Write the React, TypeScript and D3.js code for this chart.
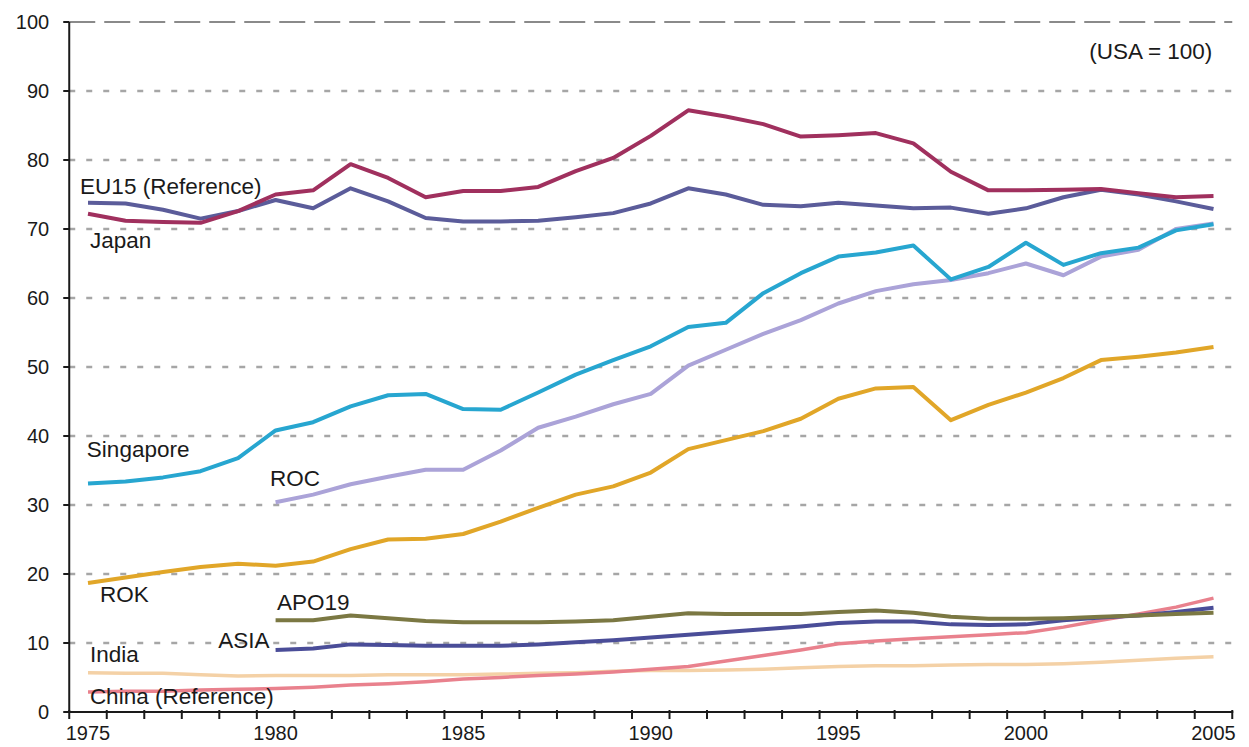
import React from "react";
import * as d3 from "d3";

const years: number[] = d3.range(1975, 2006);
const years80: number[] = d3.range(1980, 2006);

const japan = [72.2, 71.2, 71.0, 70.9, 72.6, 75.0, 75.6, 79.4, 77.4, 74.6, 75.5, 75.5, 76.1, 78.4, 80.3, 83.5, 87.2, 86.3, 85.2, 83.4, 83.6, 83.9, 82.4, 78.3, 75.6, 75.6, 75.7, 75.8, 75.2, 74.6, 74.8];
const eu15 = [73.8, 73.7, 72.8, 71.5, 72.6, 74.2, 73.0, 75.9, 74.0, 71.6, 71.1, 71.1, 71.2, 71.7, 72.3, 73.7, 75.9, 75.0, 73.5, 73.3, 73.8, 73.4, 73.0, 73.1, 72.2, 73.0, 74.6, 75.7, 75.0, 74.0, 72.9];
const singapore = [33.1, 33.4, 34.0, 34.9, 36.8, 40.8, 42.0, 44.3, 45.9, 46.1, 43.9, 43.8, 46.3, 48.9, 51.0, 53.0, 55.8, 56.4, 60.7, 63.6, 66.0, 66.6, 67.6, 62.7, 64.5, 68.0, 64.8, 66.5, 67.3, 69.8, 70.7];
const roc = [30.4, 31.5, 33.0, 34.1, 35.1, 35.1, 37.9, 41.2, 42.8, 44.6, 46.1, 50.2, 52.5, 54.8, 56.8, 59.2, 61.0, 62.0, 62.6, 63.6, 65.0, 63.3, 66.0, 67.0, 70.0, 70.8];
const rok = [18.7, 19.5, 20.3, 21.0, 21.5, 21.2, 21.8, 23.6, 25.0, 25.1, 25.8, 27.6, 29.6, 31.5, 32.7, 34.7, 38.1, 39.4, 40.7, 42.5, 45.4, 46.9, 47.1, 42.3, 44.5, 46.3, 48.4, 51.0, 51.5, 52.1, 52.9];
const apo19 = [13.3, 13.3, 14.0, 13.6, 13.2, 13.0, 13.0, 13.0, 13.1, 13.3, 13.8, 14.3, 14.2, 14.2, 14.2, 14.5, 14.7, 14.4, 13.8, 13.5, 13.5, 13.6, 13.8, 14.0, 14.2, 14.4];
const asia = [9.0, 9.2, 9.8, 9.7, 9.6, 9.6, 9.6, 9.8, 10.1, 10.4, 10.8, 11.2, 11.6, 12.0, 12.4, 12.9, 13.1, 13.1, 12.7, 12.6, 12.7, 13.3, 13.7, 14.0, 14.5, 15.1];
const india = [5.7, 5.6, 5.6, 5.4, 5.2, 5.3, 5.3, 5.3, 5.4, 5.4, 5.4, 5.5, 5.6, 5.7, 5.9, 6.0, 6.0, 6.1, 6.2, 6.4, 6.6, 6.7, 6.7, 6.8, 6.9, 6.9, 7.0, 7.2, 7.5, 7.8, 8.0];
const china = [2.9, 3.0, 3.0, 3.2, 3.3, 3.4, 3.6, 3.9, 4.1, 4.4, 4.8, 5.0, 5.3, 5.5, 5.8, 6.2, 6.6, 7.4, 8.2, 9.0, 9.9, 10.3, 10.6, 10.9, 11.2, 11.5, 12.3, 13.3, 14.2, 15.2, 16.5];

const yTicks = [0, 10, 20, 30, 40, 50, 60, 70, 80, 90, 100];
const xTickLabels = [1975, 1980, 1985, 1990, 1995, 2000, 2005];

const seriesList = [
  { name: "India", years: years, values: india, color: "#f4d1a6", width: 3.5 },
  { name: "China (Reference)", years: years, values: china, color: "#e9818d", width: 3.5 },
  { name: "ASIA", years: years80, values: asia, color: "#4a4d98", width: 4 },
  { name: "APO19", years: years80, values: apo19, color: "#7b7843", width: 4 },
  { name: "ROK", years: years, values: rok, color: "#e1a628", width: 4 },
  { name: "ROC", years: years80, values: roc, color: "#aba3d8", width: 4 },
  { name: "Singapore", years: years, values: singapore, color: "#27a6d0", width: 4 },
  { name: "EU15", years: years, values: eu15, color: "#5b5c9a", width: 4 },
  { name: "Japan", years: years, values: japan, color: "#a0305e", width: 4 },
];

const labels = [
  { text: "EU15 (Reference)", year: 1974.79, value: 76.2, anchor: "start" },
  { text: "Japan", year: 1975.05, value: 68.3, anchor: "start" },
  { text: "(USA = 100)", year: 2004.97, value: 95.7, anchor: "end" },
  { text: "Singapore", year: 1974.97, value: 38.0, anchor: "start" },
  { text: "ROC", year: 1979.85, value: 33.9, anchor: "start" },
  { text: "ROK", year: 1975.32, value: 17.0, anchor: "start" },
  { text: "APO19", year: 1980.04, value: 15.9, anchor: "start" },
  { text: "ASIA", year: 1978.47, value: 10.4, anchor: "start" },
  { text: "India", year: 1975.05, value: 8.3, anchor: "start" },
  { text: "China (Reference)", year: 1975.05, value: 2.3, anchor: "start" },
];

export default function App() {
  const W = 1249, H = 747;
  const x = d3.scaleLinear().domain([1975, 2005]).range([88, 1213.5]);
  const y = d3.scaleLinear().domain([0, 100]).range([712, 22]);
  const x0 = x(1974.5), x1 = x(2005.5);
  const font = "Arial, 'Liberation Sans', Helvetica, sans-serif";
  const boundaries = d3.range(1974.5, 2006, 1);

  return (
    <div style={{ position: "fixed", left: 0, top: 0, width: W, height: H, background: "#fff" }}>
      <svg width={W} height={H} style={{ display: "block" }}>
        <rect width={W} height={H} fill="#fff" />
        {yTicks.filter((t) => t > 0).map((t) => (
          <line
            key={"g" + t}
            x1={x0}
            x2={x1}
            y1={y(t)}
            y2={y(t)}
            stroke={t === 100 ? "#8a8a8a" : "#a6a6a6"}
            strokeWidth={t === 100 ? 2 : 2.5}
            strokeDasharray={t === 100 ? "26,9" : "6,11"}
          />
        ))}
        {seriesList.map((s) => {
          const line = d3
            .line<number>()
            .x((_, i) => x(s.years[i]))
            .y((v) => y(v));
          return (
            <path
              key={s.name}
              d={line(s.values) || ""}
              fill="none"
              stroke={s.color}
              strokeWidth={s.width}
              strokeLinejoin="round"
              strokeLinecap="butt"
            />
          );
        })}
        <line x1={x0} x2={x0} y1={y(100)} y2={y(0)} stroke="#1a1a1a" strokeWidth={2} />
        <line x1={x0} x2={x1 + 1} y1={y(0)} y2={y(0)} stroke="#1a1a1a" strokeWidth={2} />
        {yTicks.map((t) => (
          <g key={"yt" + t}>
            <line x1={x0 - 6} x2={x0} y1={y(t)} y2={y(t)} stroke="#1a1a1a" strokeWidth={2} />
            <text
              x={x0 - 20}
              y={y(t)}
              textAnchor="end"
              dominantBaseline="central"
              fontFamily={font}
              fontSize={20}
              fill="#1a1a1a"
            >
              {t}
            </text>
          </g>
        ))}
        {boundaries.map((b) => (
          <line key={"xt" + b} x1={x(b)} x2={x(b)} y1={y(0) - 2} y2={y(0) + 7} stroke="#1a1a1a" strokeWidth={2} />
        ))}
        {xTickLabels.map((yr) => (
          <text
            key={"xl" + yr}
            x={x(yr)}
            y={733}
            textAnchor="middle"
            dominantBaseline="central"
            fontFamily={font}
            fontSize={20}
            fill="#1a1a1a"
          >
            {yr}
          </text>
        ))}
        {labels.map((l) => (
          <text
            key={l.text}
            x={x(l.year)}
            y={y(l.value)}
            textAnchor={l.anchor as any}
            dominantBaseline="central"
            fontFamily={font}
            fontSize={22.5}
            fill="#1a1a1a"
          >
            {l.text}
          </text>
        ))}
      </svg>
    </div>
  );
}
